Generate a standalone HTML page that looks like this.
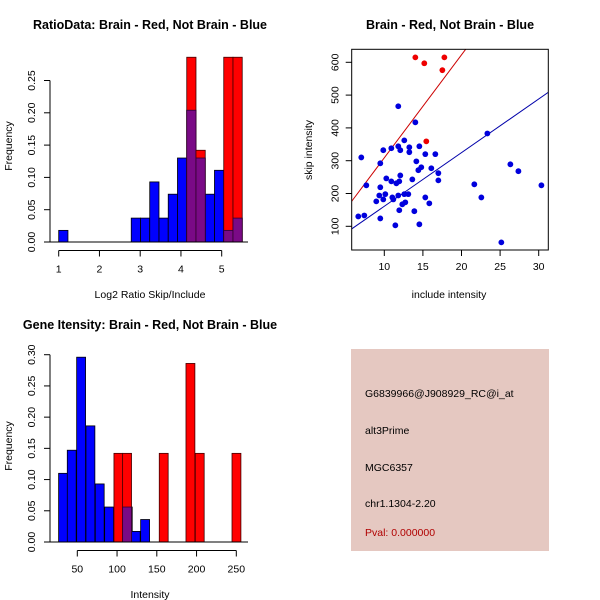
<!DOCTYPE html>
<html><head><meta charset="utf-8"><style>
body{margin:0;background:#fff}
svg{display:block;font-family:"Liberation Sans",sans-serif}
.t{font-weight:bold;font-size:12.5px}
.a{font-size:10.5px}
</style></head><body>
<svg id="s" width="600" height="600" viewBox="0 0 600 600">
<text class="t" x="150" y="29" text-anchor="middle">RatioData: Brain - Red, Not Brain - Blue</text>
<text class="t" x="450" y="29" text-anchor="middle">Brain - Red, Not Brain - Blue</text>
<text class="t" x="150" y="329" text-anchor="middle">Gene Itensity: Brain - Red, Not Brain - Blue</text>
<text class="a" x="150" y="298" text-anchor="middle">Log2 Ratio Skip/Include</text>
<text class="a" transform="translate(12,146) rotate(-90)" text-anchor="middle">Frequency</text>
<text class="a" x="449" y="298" text-anchor="middle">include intensity</text>
<text class="a" transform="translate(312,150) rotate(-90)" text-anchor="middle">skip intensity</text>
<text class="a" x="150" y="598" text-anchor="middle">Intensity</text>
<text class="a" transform="translate(12,446) rotate(-90)" text-anchor="middle">Frequency</text>
<g>
<rect x="351" y="349" width="198" height="202" fill="#e5c8c1"/>
<text class="a" x="365" y="397">G6839966@J908929_RC@i_at</text>
<text class="a" x="365" y="434">alt3Prime</text>
<text class="a" x="365" y="471">MGC6357</text>
<text class="a" x="365" y="507">chr1.1304-2.20</text>
<text class="a" x="365" y="536" fill="#b00000">Pval: 0.000000</text>
</g>
</svg>
<script>
// Ratio histogram data
const ratioBlueStart=[1.0,2.78,3.007,3.234,3.461,3.688,3.915,4.142,4.369,4.596,4.823,5.05,5.277];
const ratioBlueFreq=[0.018,0.037,0.037,0.093,0.037,0.074,0.13,0.204,0.13,0.074,0.111,0.018,0.037];
const ratioRedStart=[4.142,4.369,5.05,5.277];
const ratioRedFreq=[0.286,0.142,0.286,0.286];
const ratioBinWidth=0.227;
const ratioXTicks=[1,2,3,4,5];
const ratioYTicks=["0.00","0.05","0.10","0.15","0.20","0.25"];
// Intensity histogram data
const intBlueStart=[26.5,37.4,49.2,60.9,72.6,84.4,107.9,117.9,129.7];
const intBlueFreq=[0.11,0.147,0.296,0.186,0.093,0.056,0.056,0.017,0.036];
const intRedStart=[96.1,107.0,153.1,186.7,198.4,244.6];
const intRedFreq=[0.142,0.142,0.142,0.286,0.142,0.142];
const intBinWidth=11.2;
const intXTicks=[50,100,150,200,250];
const intYTicks=["0.00","0.05","0.10","0.15","0.20","0.25","0.30"];
// Scatter data
const blueInclude=[6.63,7.41,7.02,7.67,8.96,9.35,9.48,9.48,9.48,9.87,9.87,10.13,10.26,10.91,10.91,11.04,11.17,11.43,11.56,11.81,11.81,11.94,12.07,12.07,11.94,12.33,12.59,12.59,12.72,13.11,13.24,13.24,13.63,13.89,14.02,14.15,14.41,14.54,14.54,14.79,15.31,15.31,15.83,16.09,16.61,17.0,17.0,21.66,22.57,23.35,25.16,26.33,27.37,30.35,11.81];
const blueSkip=[130,133,310,225,176,194,124,219,292,332,182,198,246,338,237,188,182,103,231,344,194,237,255,332,149,167,362,198,173,198,341,326,243,146,417,298,271,344,106,280,320,188,170,277,320,262,240,228,188,383,51,289,268,225,466];
const redInclude=[14.02,17.78,15.18,17.52,15.44];
const redSkip=[615,615,597,576,359];
const redFit=[-5.2,31.4];
const blueFit=[-2.4,16.35];
const scXTicks=[10,15,20,25,30];
const scYTicks=[100,200,300,400,500,600];

const svg=document.getElementById('s');
const NS='http://www.w3.org/2000/svg';
function mk(tag,a,parent){const e=document.createElementNS(NS,tag);for(const k in a)e.setAttribute(k,a[k]);(parent||svg).appendChild(e);return e;}
function txt(s,a,parent){const e=mk('text',a,parent);e.setAttribute('class','a');e.textContent=s;return e;}

function hist(cfg){
  const g=mk('g',{});
  
  
  const X=v=>cfg.x0+(v-cfg.xv0)*cfg.xs, Y=v=>cfg.y0-v*cfg.ys;
  cfg.bs.forEach((s,i)=>{
    const r=mk('rect',{x:X(s),y:Y(cfg.bf[i]),width:cfg.bw*cfg.xs,height:cfg.bf[i]*cfg.ys,fill:'#0000ff',stroke:'#000',"stroke-width":0.8},g);
    
    
  });
  cfg.rs.forEach((s,i)=>{
    const r=mk('rect',{x:X(s),y:Y(cfg.rf[i]),width:cfg.bw*cfg.xs,height:cfg.rf[i]*cfg.ys,fill:'#ff0000',stroke:'#400000',"stroke-width":0.8},g);
    
    
    cfg.bs.forEach((b,j)=>{
      if(Math.abs(b-s)<cfg.bw*0.5){
        const h=Math.min(cfg.bf[j],cfg.rf[i]);
        const p=mk('rect',{x:X(s),y:Y(h),width:cfg.bw*cfg.xs,height:h*cfg.ys,fill:'#7a0a86',stroke:'#300030',"stroke-width":0.8},g);
        
        
      }
    });
  });
  mk('line',{x1:50,x2:248,y1:cfg.y0,y2:cfg.y0,stroke:'#000'},g);
  const ya=mk('g',{},g);
  
  
  const yv=cfg.yt.map(Number);
  mk('line',{x1:50,x2:50,y1:Y(yv[0]),y2:Y(yv[yv.length-1]),stroke:'#000'},ya);
  cfg.yt.forEach((t,i)=>{const y=Y(yv[i]);mk('line',{x1:44,x2:50,y1:y,y2:y,stroke:'#000'},ya);
    txt(t,{transform:`translate(35,${y}) rotate(-90)`,"text-anchor":"middle"},ya);});
  const xa=mk('g',{},g);
  
  
  const ay=cfg.y0+8.5;
  mk('line',{x1:X(cfg.xt[0]),x2:X(cfg.xt[cfg.xt.length-1]),y1:ay,y2:ay,stroke:'#000'},xa);
  cfg.xt.forEach(t=>{const x=X(t);mk('line',{x1:x,x2:x,y1:ay,y2:ay+6,stroke:'#000'},xa);
    txt(String(t),{x:x,y:ay+22,"text-anchor":"middle"},xa);});
}
hist({name:'ratio-histogram',x0:58.7,xv0:1,xs:40.75,y0:242,ys:646,bs:ratioBlueStart,bf:ratioBlueFreq,rs:ratioRedStart,rf:ratioRedFreq,bw:ratioBinWidth,xt:ratioXTicks,yt:ratioYTicks});
hist({name:'intensity-histogram',x0:77.3,xv0:50,xs:0.795,y0:542,ys:624.3,bs:intBlueStart,bf:intBlueFreq,rs:intRedStart,rf:intRedFreq,bw:intBinWidth,xt:intXTicks,yt:intYTicks});

(function(){
  const g=mk('g',{});
  
  
  const L=351.7,R=548.3,T=49.3,B=250;
  const X=v=>384.3+(v-10)*7.72, Y=v=>226.3-(v-100)*0.328;
  const cp=mk('clipPath',{id:'cp'},g);mk('rect',{x:L,y:T,width:R-L,height:B-T},cp);
  const cl=mk('g',{"clip-path":"url(#cp)"},g);
  const xl=5.77,xr=31.25;
  const rl=mk('line',{x1:X(xl),y1:Y(redFit[0]+redFit[1]*xl),x2:X(xr),y2:Y(redFit[0]+redFit[1]*xr),stroke:'#cc0000'},cl);
  
  
  const bl=mk('line',{x1:X(xl),y1:Y(blueFit[0]+blueFit[1]*xl),x2:X(xr),y2:Y(blueFit[0]+blueFit[1]*xr),stroke:'#0000aa'},cl);
  
  
  blueInclude.forEach((v,i)=>{const c=mk('circle',{cx:X(v),cy:Y(blueSkip[i]),r:2.9,fill:'#0000dd'},cl);
    
    });
  redInclude.forEach((v,i)=>{const c=mk('circle',{cx:X(v),cy:Y(redSkip[i]),r:2.9,fill:'#ee0000'},cl);
    
    });
  mk('rect',{x:L,y:T,width:R-L,height:B-T,fill:'none',stroke:'#000'},g);
  scXTicks.forEach(t=>{const x=X(t);mk('line',{x1:x,x2:x,y1:B,y2:B+6,stroke:'#000'},g);
    txt(String(t),{x:x,y:B+20,"text-anchor":"middle"},g);});
  scYTicks.forEach(t=>{const y=Y(t);mk('line',{x1:L-6,x2:L,y1:y,y2:y,stroke:'#000'},g);
    txt(String(t),{transform:`translate(${L-13},${y}) rotate(-90)`,"text-anchor":"middle"},g);});
})();
</script>
</body></html>
